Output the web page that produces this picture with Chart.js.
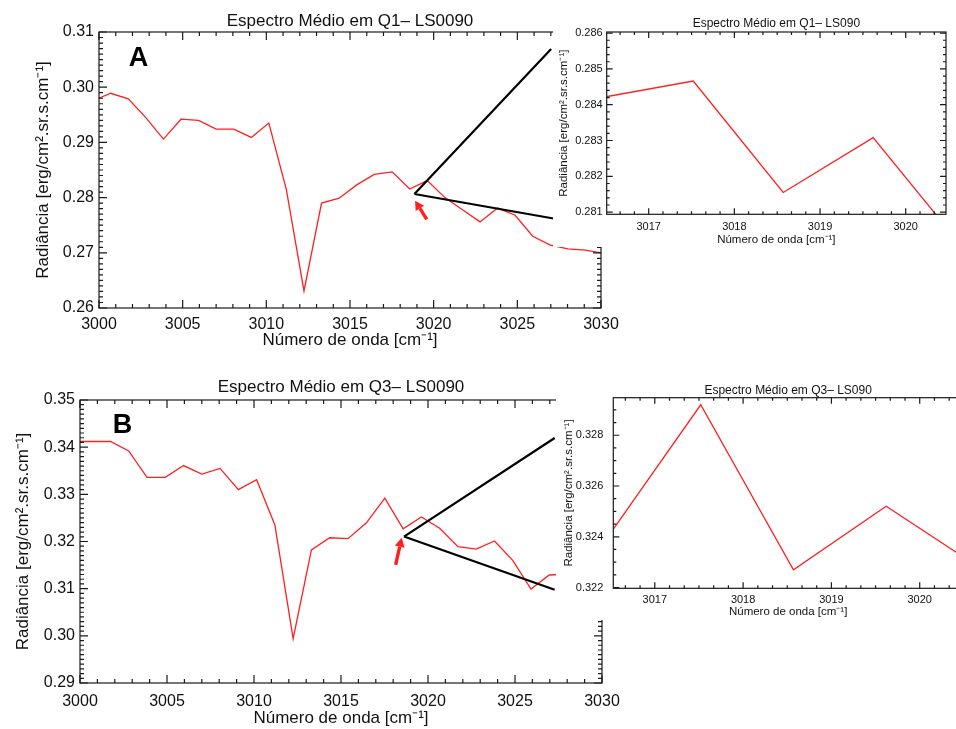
<!DOCTYPE html>
<html lang="pt">
<head>
<meta charset="utf-8">
<title>Espectro Médio – LS0090</title>
<script src="https://cdn.jsdelivr.net/npm/chart.js@4.4.1/dist/chart.umd.min.js"></script>
<style>
  html, body { margin: 0; padding: 0; background: #fff; overflow: hidden; }
  body { position: relative; width: 956px; height: 729px; }
  canvas { position: absolute; }
  #mainQ1 { left: 0; top: 0; z-index: 1; }
  #zoomQ1 { left: 553px; top: 0; z-index: 2; background: #fff; }
  #mainQ3 { left: 0; top: 370px; z-index: 1; }
  #zoomQ3 { left: 556px; top: 370px; z-index: 2; background: #fff; }
</style>
</head>
<body>
<canvas id="mainQ1" width="620" height="360"></canvas>
<canvas id="zoomQ1" width="403" height="247"></canvas>
<canvas id="mainQ3" width="620" height="359"></canvas>
<canvas id="zoomQ3" width="420" height="250"></canvas>
<script>
// número de onda das amostras [cm-1]
const wavenumber = [3000.0, 3000.7, 3001.75, 3002.8, 3003.85, 3004.9, 3005.95, 3007.0, 3008.05, 3009.1,
                    3010.15, 3011.2, 3012.25, 3013.3, 3014.35, 3015.4, 3016.45, 3017.52, 3018.57, 3019.62,
                    3020.67, 3021.72, 3022.77, 3023.82, 3024.87, 3025.92, 3026.97, 3028.02, 3029.07, 3030.0];

// radiância média em Q1 e Q3 [erg/cm2.sr.s.cm-1]
const radQ1 = [0.2980, 0.2989, 0.2979, 0.2945, 0.2906, 0.2942, 0.2940, 0.2924, 0.2924, 0.2909,
               0.2935, 0.2814, 0.2631, 0.2790, 0.2799, 0.2823, 0.2842, 0.28466, 0.28155, 0.28308,
               0.2800, 0.2778, 0.2756, 0.2781, 0.2768, 0.2730, 0.2714, 0.2707, 0.2705, 0.2700];
const radQ3 = [0.3412, 0.3412, 0.3412, 0.3392, 0.3336, 0.3336, 0.3361, 0.3343, 0.3355, 0.3310,
               0.3331, 0.3235, 0.2994, 0.3182, 0.3208, 0.3206, 0.3239, 0.3292, 0.3227, 0.3252,
               0.3228, 0.3189, 0.3184, 0.3201, 0.3160, 0.3099, 0.3129, 0.3131];

// marcas principais dos eixos
const ticksMainX = [3000, 3005, 3010, 3015, 3020, 3025, 3030];
const ticksZoomX = [3017, 3018, 3019, 3020];
const ticksQ1y = [0.26, 0.27, 0.28, 0.29, 0.30, 0.31];
const ticksZoomQ1y = [0.281, 0.282, 0.283, 0.284, 0.285, 0.286];
const ticksQ3y = [0.29, 0.30, 0.31, 0.32, 0.33, 0.34, 0.35];
const ticksZoomQ3y = [0.322, 0.324, 0.326, 0.328];

const INK = '#111';
const RED = '#ff1f1f';
const Y_TITLE = 'Radiância [erg/cm\u00b2.sr.s.cm\u207b\u00b9]';
const X_TITLE = 'Número de onda [cm\u207b\u00b9]';

Chart.defaults.font.family = "'Liberation Sans', Arial, Helvetica, sans-serif";
Chart.defaults.color = INK;

// posições das marcas menores entre as principais
function tickMarks(scale, div) {
    const vals = scale.ticks.map(t => t.value);
    const step = (vals[1] - vals[0]) / div;
    const kMin = Math.ceil((scale.min - vals[0]) / step - 1e-6);
    const kMax = Math.floor((scale.max - vals[0]) / step + 1e-6);
    const out = [];
    for (let k = kMin; k <= kMax; k++) {
        out.push([scale.getPixelForValue(vals[0] + k * step), ((k % div) + div) % div === 0]);
    }
    return out;
}

// moldura com marcas para dentro nos quatro lados
const idlFrame = {
    id: 'idlFrame',
    afterDraw(chart, args, opts) {
        const { ctx, chartArea: a, scales: { x, y } } = chart;
        ctx.save();
        ctx.strokeStyle = '#1a1a1a';
        ctx.lineWidth = 1.2;
        ctx.strokeRect(a.left, a.top, a.right - a.left, a.bottom - a.top);
        ctx.beginPath();
        tickMarks(x, opts.xDiv).forEach(([px, major]) => {
            const len = major ? opts.major : opts.minor;
            ctx.moveTo(px, a.bottom); ctx.lineTo(px, a.bottom - len);
            ctx.moveTo(px, a.top); ctx.lineTo(px, a.top + len);
        });
        tickMarks(y, opts.yDiv).forEach(([py, major]) => {
            const len = major ? opts.major : opts.minor;
            ctx.moveTo(a.left, py); ctx.lineTo(a.left + len, py);
            ctx.moveTo(a.right, py); ctx.lineTo(a.right - len, py);
        });
        ctx.stroke();
        ctx.restore();
    }
};

function drawArrow(ctx, x0, y0, x1, y1) {
    const ang = Math.atan2(y1 - y0, x1 - x0);
    const head = 9, half = 5;
    const bx = x1 - head * Math.cos(ang), by = y1 - head * Math.sin(ang);
    ctx.strokeStyle = RED;
    ctx.fillStyle = RED;
    ctx.lineWidth = 3.4;
    ctx.beginPath(); ctx.moveTo(x0, y0); ctx.lineTo(bx, by); ctx.stroke();
    ctx.beginPath();
    ctx.moveTo(x1, y1);
    ctx.lineTo(bx + half * Math.sin(ang), by - half * Math.cos(ang));
    ctx.lineTo(bx - half * Math.sin(ang), by + half * Math.cos(ang));
    ctx.closePath();
    ctx.fill();
}

// letra do painel, linhas de ampliação e seta
const zoomGuide = {
    id: 'zoomGuide',
    afterDatasetsDraw(chart, args, g) {
        const { ctx, chartArea: a, scales: { x, y } } = chart;
        const px = p => [x.getPixelForValue(p[0]), y.getPixelForValue(p[1])];
        ctx.save();
        const [vx, vy] = px(g.vertex);
        ctx.strokeStyle = '#000';
        ctx.lineWidth = 2.2;
        ctx.beginPath();
        g.ends.forEach(e => {
            const [ex, ey] = px(e);
            ctx.moveTo(ex, ey); ctx.lineTo(vx, vy);
        });
        ctx.stroke();
        const [tx, ty] = px(g.arrowTail);
        const [hx, hy] = px(g.arrowTip);
        drawArrow(ctx, tx, ty, hx, hy);
        ctx.fillStyle = '#000';
        ctx.font = "bold 27px 'Liberation Sans', Arial, sans-serif";
        ctx.textAlign = 'center';
        ctx.textBaseline = 'alphabetic';
        ctx.fillText(g.letter, a.left + g.letterAt[0], a.top + g.letterAt[1]);
        ctx.restore();
    }
};

function buildChart(id, s) {
    const points = s.values.map((v, i) => ({ x: wavenumber[i], y: v }));
    return new Chart(document.getElementById(id), {
        type: 'line',
        data: {
            datasets: [{
                data: points,
                borderColor: RED,
                borderWidth: 1.3,
                pointRadius: 0,
                tension: 0
            }]
        },
        options: {
            responsive: false,
            animation: false,
            events: [],
            layout: { padding: { left: 0, top: 0, right: s.padRight, bottom: 0 } },
            plugins: {
                legend: { display: false },
                tooltip: { enabled: false },
                title: {
                    display: true,
                    text: s.title,
                    fullSize: false,
                    color: INK,
                    font: { size: s.titleSize, weight: 'normal' },
                    padding: s.titlePad
                },
                idlFrame: { xDiv: s.xDiv, yDiv: s.yDiv, major: s.major, minor: s.minor },
                zoomGuide: s.guide || false
            },
            scales: {
                x: {
                    type: 'linear',
                    min: s.xRange[0],
                    max: s.xRange[1],
                    afterBuildTicks: sc => { sc.ticks = s.xTicks.map(v => ({ value: v })); },
                    afterFit: sc => {
                        sc.height = s.xHeight;
                        // o rótulo 3030 pode ultrapassar a moldura, sem empurrar a área do gráfico
                        sc.paddingLeft = 0;
                        sc.paddingRight = 0;
                    },
                    grid: { display: false, drawTicks: false },
                    border: { display: false },
                    ticks: {
                        padding: s.xTickPad,
                        autoSkip: false,
                        maxRotation: 0,
                        color: INK,
                        font: { size: s.tickSize },
                        callback: v => v.toFixed(0)
                    },
                    title: {
                        display: true,
                        text: X_TITLE,
                        color: INK,
                        font: { size: s.axisTitleSize },
                        padding: { top: 0, bottom: s.xTitlePad }
                    }
                },
                y: {
                    type: 'linear',
                    min: s.yRange[0],
                    max: s.yRange[1],
                    afterBuildTicks: sc => { sc.ticks = s.yTicks.map(v => ({ value: v })); },
                    afterFit: sc => {
                        sc.width = s.yWidth;
                        sc.paddingTop = 0;
                        sc.paddingBottom = 0;
                    },
                    grid: { display: false, drawTicks: false },
                    border: { display: false },
                    ticks: {
                        padding: s.yTickPad,
                        autoSkip: false,
                        color: INK,
                        font: { size: s.tickSize },
                        callback: v => v.toFixed(s.yDecimals)
                    },
                    title: {
                        display: true,
                        text: Y_TITLE,
                        color: INK,
                        font: { size: s.axisTitleSize },
                        padding: { top: s.yTitlePad, bottom: 0 }
                    }
                }
            }
        },
        plugins: [idlFrame, zoomGuide]
    });
}

// painel A: espectro completo em Q1
buildChart('mainQ1', {
    values: radQ1, title: 'Espectro Médio em Q1\u2013 LS0090',
    xRange: [3000, 3030], yRange: [0.26, 0.31], xTicks: ticksMainX, yTicks: ticksQ1y,
    xDiv: 5, yDiv: 10, major: 8, minor: 4, yDecimals: 2,
    titleSize: 17, tickSize: 16, axisTitleSize: 17,
    titlePad: { top: 10.8, bottom: 0.8 }, padRight: 19,
    xHeight: 52, xTickPad: 7.2, xTitlePad: 9.4,
    yWidth: 99, yTickPad: 5, yTitlePad: 33.5,
    guide: {
        letter: 'A', letterAt: [39.5, 33.5],
        vertex: [3018.85, 0.28065], ends: [[3027.02, 0.30692], [3027.67, 0.27594]],
        arrowTail: [3019.59, 0.27607], arrowTip: [3018.89, 0.27944]
    }
});

// ampliação de Q1
buildChart('zoomQ1', {
    values: radQ1, title: 'Espectro Médio em Q1\u2013 LS090',
    xRange: [3016.51, 3020.47], yRange: [0.28094, 0.28603], xTicks: ticksZoomX, yTicks: ticksZoomQ1y,
    xDiv: 6, yDiv: 5, major: 6, minor: 3, yDecimals: 3,
    titleSize: 12, tickSize: 11, axisTitleSize: 11.5,
    titlePad: { top: 16.6, bottom: 1 }, padRight: 10,
    xHeight: 32.7, xTickPad: 5.6, xTitlePad: 0.6,
    yWidth: 53.7, yTickPad: 4, yTitlePad: 3.6
});

// painel B: espectro completo em Q3
buildChart('mainQ3', {
    values: radQ3, title: 'Espectro Médio em Q3\u2013 LS0090',
    xRange: [3000, 3030], yRange: [0.29, 0.35], xTicks: ticksMainX, yTicks: ticksQ3y,
    xDiv: 5, yDiv: 10, major: 8, minor: 4, yDecimals: 2,
    titleSize: 17, tickSize: 16, axisTitleSize: 17,
    titlePad: { top: 7.6, bottom: 2 }, padRight: 18,
    xHeight: 46, xTickPad: 8.6, xTitlePad: 0.4,
    yWidth: 80, yTickPad: 5, yTitlePad: 13.5,
    guide: {
        letter: 'B', letterAt: [42.5, 33],
        vertex: [3018.62, 0.32105], ends: [[3027.28, 0.34195], [3027.28, 0.30976]],
        arrowTail: [3018.14, 0.31505], arrowTip: [3018.49, 0.32077]
    }
});

// ampliação de Q3
buildChart('zoomQ3', {
    values: radQ3, title: 'Espectro Médio em Q3\u2013 LS090',
    xRange: [3016.53, 3020.49], yRange: [0.32197, 0.32948], xTicks: ticksZoomX, yTicks: ticksZoomQ3y,
    xDiv: 6, yDiv: 4, major: 6, minor: 3, yDecimals: 3,
    titleSize: 12, tickSize: 11, axisTitleSize: 11.5,
    titlePad: { top: 13.3, bottom: 0 }, padRight: 13,
    xHeight: 31.7, xTickPad: 5, xTitlePad: 1.2,
    yWidth: 57.3, yTickPad: 10, yTitlePad: 6.4
});
</script>
</body>
</html>
